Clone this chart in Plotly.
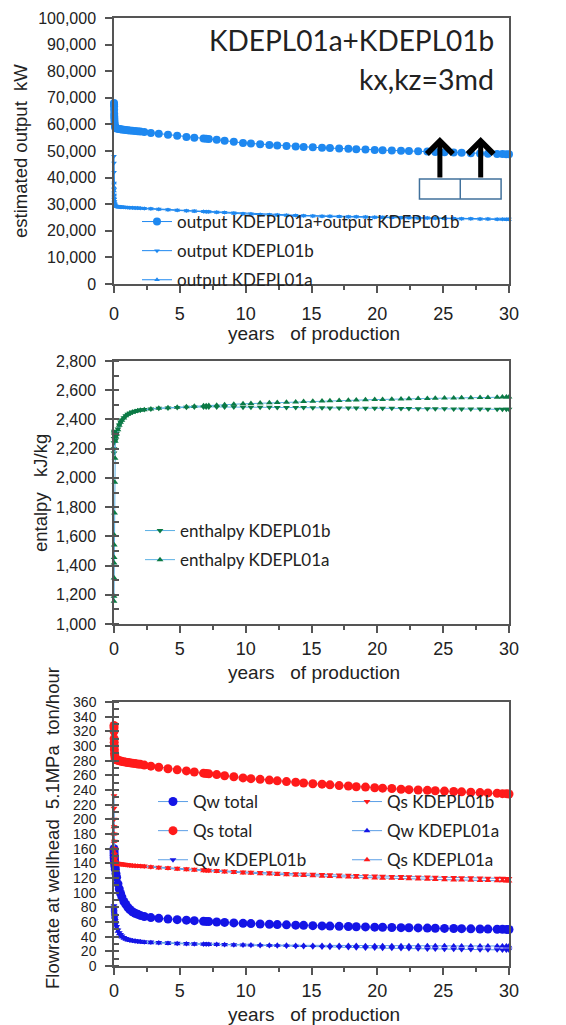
import plotly.graph_objects as go

# time axis shared by all series (years of production)
years = [0.0, 0.003, 0.006, 0.01, 0.015, 0.02, 0.03, 0.04, 0.06, 0.08,
         0.1, 0.15, 0.2, 0.3, 0.4, 0.5, 0.6, 0.75, 0.9, 1.05,
         1.2, 1.4, 1.6, 1.8, 2.0, 2.3, 2.8, 3.4, 4.1, 4.8,
         5.5, 6.1, 6.8, 7.0, 7.2, 7.8, 8.4, 9.1, 9.8, 10.4,
         11.1, 11.8, 12.4, 13.1, 13.8, 14.4, 15.1, 15.8, 16.4, 17.1,
         17.8, 18.4, 19.1, 19.8, 20.4, 21.1, 21.8, 22.4, 23.1, 23.8,
         24.4, 25.1, 25.8, 26.4, 27.1, 27.8, 28.4, 29.1, 29.5, 29.8, 30.0]

# panel 1 - estimated output (kW)
output_total = [68000, 67500, 66800, 65500, 64000, 63000, 62000, 61000, 60000, 59200,
                58700, 58600, 58500, 58400, 58300, 58200, 58100, 58000, 57900, 57800,
                57700, 57600, 57500, 57400, 57300, 57100, 56800, 56500, 56100, 55700,
                55300, 55000, 54700, 54600, 54500, 54200, 53900, 53500, 53000, 52800,
                52500, 52300, 52100, 51900, 51700, 51500, 51400, 51200, 51100, 50900,
                50800, 50700, 50600, 50400, 50300, 50200, 50100, 50000, 49900, 49800,
                49600, 49500, 49400, 49300, 49200, 49100, 49000, 48900, 48850, 48800, 48800]
output_b = [48000, 45500, 42000, 38000, 35500, 33500, 32000, 31000, 30200, 29800,
            29400, 29300, 29200, 29150, 29100, 29050, 29000, 28950, 28900, 28850,
            28800, 28750, 28700, 28650, 28600, 28500, 28350, 28200, 28000, 27850,
            27650, 27500, 27350, 27300, 27250, 27100, 26950, 26750, 26500, 26400,
            26250, 26150, 26050, 25950, 25850, 25750, 25700, 25600, 25550, 25450,
            25400, 25350, 25300, 25200, 25150, 25100, 25050, 25000, 24950, 24900,
            24800, 24750, 24700, 24650, 24600, 24550, 24500, 24450, 24450, 24400, 24400]
output_a = [38000, 36500, 35000, 33500, 32500, 31500, 30800, 30300, 29900, 29600,
            29200, 29100, 29000, 28950, 28900, 28850, 28800, 28750, 28700, 28650,
            28600, 28550, 28500, 28450, 28400, 28300, 28150, 28000, 27800, 27650,
            27450, 27300, 27150, 27100, 27050, 26900, 26750, 26550, 26300, 26200,
            26050, 25950, 25850, 25750, 25650, 25550, 25500, 25400, 25350, 25250,
            25200, 25150, 25100, 25000, 24950, 24900, 24850, 24800, 24750, 24700,
            24600, 24550, 24500, 24450, 24400, 24350, 24300, 24250, 24250, 24200, 24200]

# panel 2 - enthalpy (kJ/kg)
enthalpy_b = [2170, 2200, 2240, 2270, 2300, 2320, 2310, 2290, 2270, 2255,
              2260, 2285, 2305, 2335, 2362, 2382, 2397, 2412, 2426, 2436,
              2443, 2451, 2456, 2461, 2464, 2468, 2472, 2476, 2479, 2482,
              2484, 2485, 2486, 2486, 2486, 2486, 2485, 2485, 2484, 2484,
              2483, 2483, 2482, 2482, 2481, 2481, 2480, 2480, 2479, 2479,
              2478, 2478, 2477, 2477, 2476, 2476, 2475, 2475, 2474, 2474,
              2473, 2473, 2472, 2472, 2471, 2471, 2470, 2470, 2470, 2469, 2469]
enthalpy_a = [1155, 1190, 1315, 1417, 1455, 1540, 1608, 1760, 1970, 2135,
              2250, 2280, 2300, 2330, 2360, 2380, 2395, 2410, 2425, 2435,
              2442, 2450, 2455, 2460, 2463, 2467, 2472, 2476, 2480, 2484,
              2487, 2490, 2493, 2494, 2495, 2498, 2501, 2504, 2507, 2509,
              2512, 2514, 2516, 2518, 2520, 2522, 2524, 2526, 2528, 2530,
              2531, 2533, 2534, 2536, 2537, 2539, 2540, 2541, 2543, 2544,
              2545, 2546, 2547, 2548, 2549, 2550, 2551, 2552, 2553, 2553, 2553]

# panel 3 - flowrate at wellhead (ton/hour)
qw_total = [160, 157, 154, 151, 148, 146, 144, 141, 138, 135,
            132, 126, 121, 112, 105, 99, 94, 88, 84, 80,
            77, 74, 72, 70.5, 69, 67.5, 66, 65, 64, 63.2,
            62.5, 61.8, 61, 60.8, 60.6, 60, 59.4, 58.8, 58.2, 57.8,
            57.3, 56.9, 56.5, 56.1, 55.7, 55.4, 55, 54.7, 54.4, 54.1,
            53.8, 53.5, 53.3, 53, 52.8, 52.5, 52.3, 52.1, 51.9, 51.7,
            51.5, 51.3, 51.1, 50.9, 50.7, 50.5, 50.3, 50.1, 50, 49.9, 49.8]
qs_total = [328, 325, 320, 310, 305, 300, 295, 290, 287, 284,
            282, 281.5, 281, 280.5, 280, 279.5, 279, 278.5, 278, 277.5,
            277, 276.5, 276, 275.5, 275, 274, 272.5, 271, 269, 267.5,
            266, 264.5, 263, 262.5, 262, 261, 259.5, 258, 256.5, 255.5,
            254.5, 253.5, 252.5, 251.5, 250.5, 249.5, 248.5, 248, 247, 246,
            245.5, 244.5, 244, 243, 242.5, 242, 241, 240.5, 240, 239.5,
            239, 238.5, 238, 237.5, 237, 236.5, 236, 235.5, 235, 235, 234.5]
qw_b = [82, 80, 78, 76, 74, 72, 70, 68, 66, 64,
        62, 58, 54, 49, 45.5, 43, 41, 39, 37.5, 36.5,
        35.8, 35.2, 34.6, 34.1, 33.6, 33.1, 32.6, 32.1, 31.6, 31.1,
        30.7, 30.4, 30.1, 30, 29.9, 29.6, 29.3, 29, 28.7, 28.4,
        28.1, 27.8, 27.5, 27.2, 26.9, 26.6, 26.3, 26, 25.7, 25.5,
        25.2, 25, 24.7, 24.5, 24.3, 24.1, 23.9, 23.7, 23.5, 23.3,
        23.1, 22.9, 22.7, 22.6, 22.4, 22.3, 22.1, 22, 21.9, 21.8, 21.8]
qs_b = [232, 215, 200, 190, 180, 170, 160, 152, 146, 142,
        140.5, 140.3, 140.1, 139.8, 139.5, 139.3, 139, 138.7, 138.4, 138.1,
        137.8, 137.5, 137.2, 136.9, 136.6, 136.2, 135.5, 134.8, 134, 133.2,
        132.5, 131.8, 131.1, 130.9, 130.7, 130.1, 129.5, 128.9, 128.3, 127.9,
        127.4, 127, 126.6, 126.2, 125.8, 125.4, 125, 124.7, 124.3, 124,
        123.7, 123.4, 123.1, 122.8, 122.5, 122.2, 122, 121.7, 121.5, 121.2,
        121, 120.8, 120.6, 120.4, 120.2, 120, 119.8, 119.6, 119.5, 119.4, 119.3]
qw_a = [80, 78, 76, 74, 72, 70, 68, 66, 64, 62,
        60, 56, 52, 47.5, 44, 41.5, 39.5, 38, 36.5, 35.5,
        34.8, 34.2, 33.6, 33.1, 32.6, 32.2, 31.7, 31.2, 30.8, 30.4,
        30.1, 29.8, 29.5, 29.4, 29.4, 29.2, 29, 28.8, 28.7, 28.6,
        28.5, 28.4, 28.3, 28.2, 28.1, 28.1, 28, 28, 27.9, 27.9,
        27.8, 27.8, 27.7, 27.7, 27.7, 27.6, 27.6, 27.6, 27.5, 27.5,
        27.5, 27.5, 27.4, 27.4, 27.4, 27.4, 27.3, 27.3, 27.3, 27.3, 27.3]
qs_a = [190, 180, 170, 160, 155, 150, 146, 143, 141, 140,
        139.5, 139.3, 139.1, 138.8, 138.5, 138.3, 138, 137.7, 137.4, 137.1,
        136.8, 136.5, 136.2, 135.9, 135.6, 135.2, 134.5, 133.7, 132.9, 132.1,
        131.4, 130.7, 130, 129.8, 129.6, 129, 128.3, 127.6, 126.9, 126.4,
        125.8, 125.3, 124.8, 124.3, 123.8, 123.3, 122.9, 122.5, 122.1, 121.7,
        121.3, 120.9, 120.5, 120.1, 119.8, 119.5, 119.2, 118.9, 118.6, 118.3,
        118, 117.7, 117.4, 117.2, 117, 116.7, 116.5, 116.3, 116.1, 116, 115.9]

# the page body adds an 8px margin, so the figure is sized to fit inside it
OFF = 8
W, H = 566 - OFF, 1025 - OFF
def fx(p): return (p - OFF) / W
def fy(p): return 1 - (p - OFF) / H

AXC = "#555555"
TICKFONT = "Liberation Sans"
LEGFONT = "Lato"

fig = go.Figure()

def add(y, name, color, line_color, symbol, size, ax, legend):
    fig.add_trace(go.Scatter(
        x=years, y=y, name=name, mode="lines+markers",
        line=dict(color=line_color, width=1),
        marker=dict(color=color, symbol=symbol, size=size),
        xaxis="x" + ax, yaxis="y" + ax, legend=legend, legendgroup=name,
        cliponaxis=False))

BL1 = "#1e88f0"
add(output_total, "output KDEPL01a+output KDEPL01b", BL1, BL1, "circle", 8, "", "legend")
add(output_b, "output KDEPL01b", BL1, BL1, "triangle-down", 5, "", "legend")
add(output_a, "output KDEPL01a", BL1, BL1, "triangle-up", 5, "", "legend")

GRN = "#0b7a45"
LB = "#5ab0e4"
add(enthalpy_b, "enthalpy KDEPL01b", GRN, LB, "triangle-down", 6, "2", "legend2")
add(enthalpy_a, "enthalpy KDEPL01a", GRN, LB, "triangle-up", 6, "2", "legend2")

RED = "#ff1a1a"
BLU = "#1414e6"
LB3 = "#5a9ee6"
add(qw_total, "Qw total", BLU, LB3, "circle", 9, "3", "legend3")
add(qs_total, "Qs total", RED, LB3, "circle", 9, "3", "legend3")
add(qw_b, "Qw KDEPL01b", BLU, LB3, "triangle-down", 6, "3", "legend3")
add(qs_b, "Qs KDEPL01b", RED, LB3, "triangle-down", 6, "3", "legend4")
add(qw_a, "Qw KDEPL01a", BLU, LB3, "triangle-up", 6, "3", "legend4")
add(qs_a, "Qs KDEPL01a", RED, LB3, "triangle-up", 6, "3", "legend4")

def xax(anchor, standoff=4):
    return dict(domain=[fx(114), fx(509)], anchor=anchor, range=[0, 30], dtick=5, tick0=0,
                ticks="outside", ticklen=7, tickwidth=1.5, tickcolor=AXC,
                showline=True, linecolor=AXC, linewidth=1.5, mirror=True, automargin=False,
                showgrid=False, zeroline=False, ticklabelstandoff=standoff,
                minor=dict(ticks="outside", ticklen=4, dtick=2.5, tickcolor=AXC, tickwidth=1.5),
                tickfont=dict(family=TICKFONT, size=18, color="#222"))

def yax(top, bottom, anchor, rng, dtick, minor=None, fsize=16):
    d = dict(domain=[fy(bottom), fy(top)], anchor=anchor, range=rng, dtick=dtick,
             ticks="outside", ticklen=7, tickwidth=1.5, tickcolor=AXC, automargin=False,
             showline=True, linecolor=AXC, linewidth=1.5, mirror=True,
             showgrid=False, zeroline=False, tickformat=",", ticklabelstandoff=6,
             tickfont=dict(family=TICKFONT, size=fsize, color="#222"))
    if minor:
        d["minor"] = dict(ticks="inside", ticklen=5, dtick=minor, tickcolor=AXC, tickwidth=1.5)
    return d

def leg(x, y):
    return dict(x=fx(x), y=fy(y), xanchor="left", yanchor="top", bgcolor="rgba(0,0,0,0)",
                font=dict(family=LEGFONT, size=17, color="#222"), tracegroupgap=4)

annotations = []
def text(t, x, y, size, angle=0, family=TICKFONT, anchor="center"):
    annotations.append(dict(text=t, x=fx(x), y=fy(y), xref="paper", yref="paper",
                            showarrow=False, textangle=angle, xanchor=anchor, yanchor="middle",
                            font=dict(family=family, size=size, color="#222")))

text("KDEPL01a+KDEPL01b", 496, 40, 28, family=LEGFONT, anchor="right")
text("kx,kz=3md", 496, 79, 28.5, family=LEGFONT, anchor="right")
for y in (333, 672, 1014):
    text("years\u00a0\u00a0\u00a0of production", 314, y, 19)
text("estimated output\u00a0\u00a0kW", 20, 151, 18.5, angle=-90)
text("entalpy\u00a0\u00a0\u00a0kJ/kg", 40, 493, 18.5, angle=-90)
text("Flowrate at wellhead\u00a0\u00a05.1MPa\u00a0\u00a0ton/hour", 52, 828, 18.5, angle=-90)

# arrows above the two boxes
for xa in (24.75, 27.85):
    annotations.append(dict(x=xa, y=55300, ax=xa, ay=39500, xref="x", yref="y", axref="x", ayref="y",
                            showarrow=True, arrowhead=4, arrowwidth=5, arrowsize=1,
                            arrowcolor="black", text=""))

shapes = [
    dict(type="rect", xref="x", yref="y", x0=23.2, x1=29.4, y0=32000, y1=39500,
         line=dict(color="#41719c", width=1.5), fillcolor="white"),
    dict(type="line", xref="x", yref="y", x0=26.3, x1=26.3, y0=32000, y1=39500,
         line=dict(color="#41719c", width=1.5)),
]

fig.update_layout(
    width=W, height=H, margin=dict(l=0, r=0, t=0, b=0, pad=0),
    paper_bgcolor="white", plot_bgcolor="white", showlegend=True,
    xaxis=xax("y", 6), yaxis=yax(18, 284, "x", [0, 100000], 10000),
    xaxis2=xax("y2", 1), yaxis2=yax(361, 624, "x2", [1000, 2800], 200, 100),
    xaxis3=xax("y3", 1), yaxis3=yax(702, 966, "x3", [0, 360], 20, 10, fsize=14),
    legend=leg(137, 204), legend2=leg(140, 513), legend3=leg(153, 784), legend4=leg(347, 784),
    annotations=annotations, shapes=shapes,
)

fig.write_html("out.html")
